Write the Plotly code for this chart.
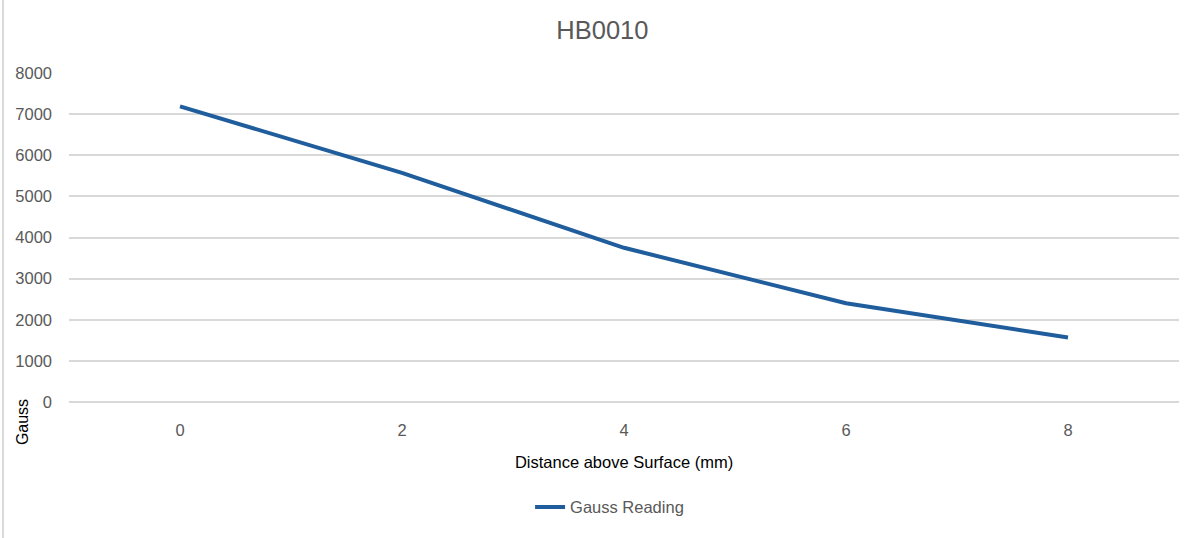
import plotly.graph_objects as go

# readings taken off the chart
distance_mm = ['0', '2', '4', '6', '8']
gauss_reading = [7190, 5570, 3750, 2400, 1570]

LINE_BLUE = '#1f5d9c'
TEXT_GRAY = '#595959'
GRID_GRAY = '#d9d9d9'
FONT = 'Liberation Sans, Arial, sans-serif'

fig = go.Figure()
fig.add_trace(
    go.Scatter(
        x=distance_mm,
        y=gauss_reading,
        mode='lines',
        name='Gauss Reading',
        line=dict(color=LINE_BLUE, width=4),
    )
)

fig.update_layout(
    width=1200,
    height=538,
    margin=dict(l=69, r=21, t=73, b=136),
    paper_bgcolor='white',
    plot_bgcolor='white',
    font=dict(family=FONT, color=TEXT_GRAY, size=16),
    title=dict(
        text='HB0010',
        x=0.502,
        xanchor='center',
        y=0.945,
        yanchor='middle',
        font=dict(size=25.5, color=TEXT_GRAY),
    ),
    showlegend=True,
    legend=dict(
        orientation='h',
        x=0.487,
        xanchor='center',
        y=-0.32,
        yanchor='middle',
        font=dict(size=16.5, color=TEXT_GRAY),
    ),
)

fig.update_xaxes(
    type='category',
    range=[-0.5, 4.5],
    showgrid=False,
    showline=False,
    zeroline=False,
    ticks='',
    ticklabelstandoff=16,
    tickfont=dict(size=16.5, color=TEXT_GRAY),
    title=dict(
        text='Distance above Surface (mm)',
        font=dict(size=16.5, color='black'),
        standoff=18,
    ),
)
fig.update_yaxes(
    range=[0, 8000],
    dtick=1000,
    showgrid=True,
    gridcolor=GRID_GRAY,
    gridwidth=1.5,
    zeroline=True,
    zerolinecolor=GRID_GRAY,
    zerolinewidth=1.5,
    showline=False,
    ticks='',
    ticklabelstandoff=16,
    tickfont=dict(size=16.5, color=TEXT_GRAY),
)

fig.add_annotation(
    text='Gauss',
    xref='paper',
    yref='paper',
    x=-0.042,
    y=-0.06,
    xanchor='center',
    yanchor='middle',
    textangle=-90,
    showarrow=False,
    font=dict(size=16, color='black', family=FONT),
)

# thin frame edge on the left side of the picture
fig.add_shape(
    type='line',
    xref='paper',
    yref='paper',
    x0=-0.0595,
    x1=-0.0595,
    y0=-0.42,
    y1=1.23,
    line=dict(color=GRID_GRAY, width=2),
)

fig.write_html(
    'out.html',
    config={'displayModeBar': False},
    post_script="document.body.style.margin='0';",
)
